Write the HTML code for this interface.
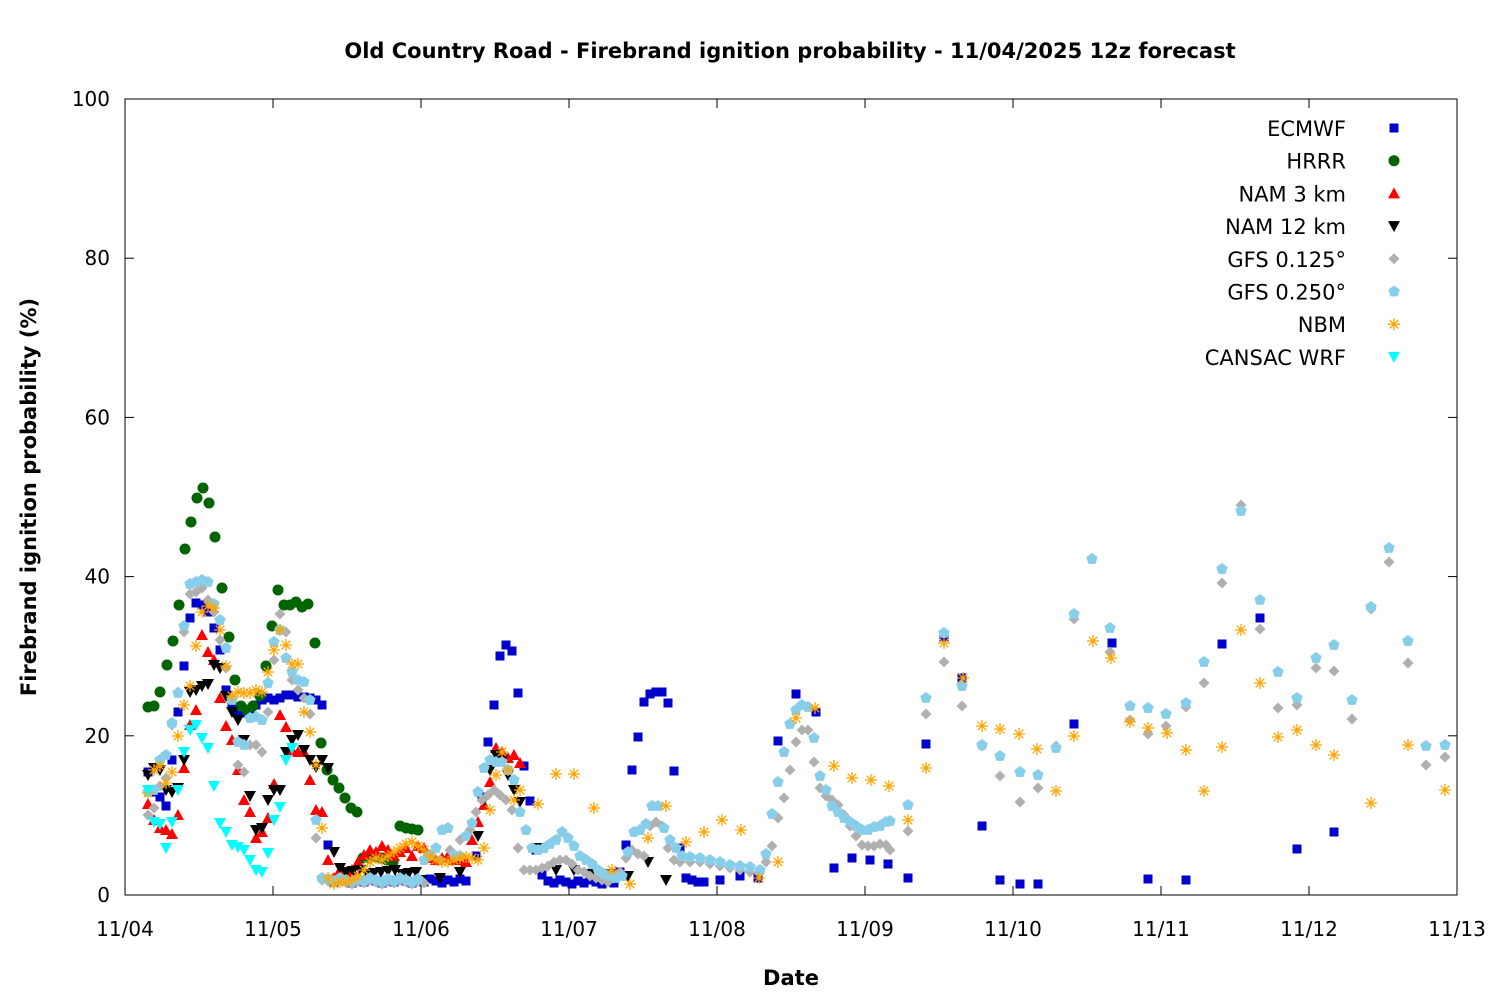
<!DOCTYPE html>
<html><head><meta charset="utf-8"><style>
html,body{margin:0;padding:0;background:#fff}
svg{display:block;font-family:"DejaVu Sans","Liberation Sans",sans-serif}
</style></head><body>
<svg id="s" width="1500" height="1000" viewBox="0 0 1500 1000" xmlns="http://www.w3.org/2000/svg">
<rect width="1500" height="1000" fill="#fff"/>
<text x="790" y="58" text-anchor="middle" font-size="21" font-weight="bold">Old Country Road - Firebrand ignition probability - 11/04/2025 12z forecast</text>
<g id="axes" stroke="#000" stroke-width="1" fill="none"><rect x="125" y="99" width="1332" height="796"/></g>
<g id="lab" font-size="20" fill="#000"></g>
<text x="791" y="985" text-anchor="middle" font-size="21" font-weight="bold">Date</text>
<text transform="translate(36,497) rotate(-90)" text-anchor="middle" font-size="21" font-weight="bold">Firebrand ignition probability (%)</text>
<g id="pts"></g>
<g id="leg" font-size="21" text-anchor="end"></g>
</svg>
<script>
var NS="http://www.w3.org/2000/svg",s=document.getElementById('s');
function el(t,a,p){var e=document.createElementNS(NS,t);for(var k in a)e.setAttribute(k,a[k]);(p||s).appendChild(e);return e;}
var ax=document.getElementById('axes'),lab=document.getElementById('lab');
for(var i=0;i<=5;i++){var y=895-i*159.2;el('line',{x1:125,y1:y,x2:134,y2:y},ax);el('line',{x1:1457,y1:y,x2:1448,y2:y},ax);
var t=el('text',{x:110,y:y+7,'text-anchor':'end'},lab);t.textContent=i*20;}
var days=['11/04','11/05','11/06','11/07','11/08','11/09','11/10','11/11','11/12','11/13'];
for(var i=0;i<10;i++){var x=125+i*148;el('line',{x1:x,y1:895,x2:x,y2:886},ax);el('line',{x1:x,y1:99,x2:x,y2:108},ax);
var t=el('text',{x:x,y:936,'text-anchor':'middle'},lab);t.textContent=days[i];}
var G=document.getElementById('pts');
function mk(type,c,x,y,p){p=p||G;
 if(type=='sq')el('rect',{x:x-4.5,y:y-4.5,width:9,height:9,fill:c},p);
 else if(type=='ci')el('circle',{cx:x,cy:y,r:5.5,fill:c},p);
 else if(type=='tu')el('polygon',{points:(x-6)+','+(y+5)+' '+(x+6)+','+(y+5)+' '+x+','+(y-6),fill:c},p);
 else if(type=='td')el('polygon',{points:(x-6)+','+(y-5)+' '+(x+6)+','+(y-5)+' '+x+','+(y+6),fill:c},p);
 else if(type=='di')el('polygon',{points:x+','+(y-5.5)+' '+(x+5.5)+','+y+' '+x+','+(y+5.5)+' '+(x-5.5)+','+y,fill:c},p);
 else if(type=='pe'){var q=[];for(var k=0;k<5;k++){var a=-Math.PI/2+k*2*Math.PI/5;q.push((x+6*Math.cos(a)).toFixed(1)+','+(y+6*Math.sin(a)).toFixed(1));}el('polygon',{points:q.join(' '),fill:c},p);}
 else if(type=='as'){var d='M'+(x-6)+' '+y+'h12M'+x+' '+(y-6)+'v12M'+(x-4.3)+' '+(y-4.3)+'l8.6 8.6M'+(x-4.3)+' '+(y+4.3)+'l8.6 -8.6';el('path',{d:d,stroke:c,'stroke-width':1.3,fill:'none'},p);}
}
function flat(a,b,y,st){var r=[];for(var x=a;x<=b;x+=st)r.push(x,y+((x*7)%5)-2);return r;}
var S=[
['sq','#0000cc',[148,772,154,792,160,797,166,806,172,760,178,712,184,666,190,618,196,603,202,605,208,612,214,628,220,650,226,690,232,705,238,713,244,713,250,710,256,705,262,700,268,698,274,700,280,698,286,695,292,695,298,697,304,697,310,698,316,700,322,705,328,845].concat(flat(334,470,881,6)).concat([476,856,482,797,488,742,494,705,500,656,506,645,512,651,518,693,524,766,530,801,536,850,542,875]).concat(flat(548,614,882,6)).concat([620,872,626,845,632,770,638,737,644,702,650,694,656,692,662,692,668,703,674,771,680,848,686,878,692,880,698,882,704,882,720,880,740,876,758,878,778,741,796,694,816,712,834,868,852,858,870,860,888,864,908,878,926,744,944,637,962,678,982,826,1000,880,1020,884,1038,884,1074,724,1112,643,1148,879,1186,880,1222,644,1260,618,1297,849,1334,832])],
['ci','#006400',[148,707,154,706,160,692,167,665,173,641,179,605,185,549,191,522,197,498,203,488,209,503,215,537,222,588,229,637,235,680,241,706,247,710,253,706,260,696,266,666,272,626,278,590,284,605,290,605,296,602,302,607,308,604,315,643,321,743,327,770,333,780,339,788,345,798,351,808,357,812,363,858,369,858,375,857,381,858,387,860,393,862,400,826,406,828,412,829,418,830]],
['tu','#ff0000',[148,804,154,820,160,828,166,830,172,834,178,815,184,768,190,725,196,710,202,635,208,652,214,660,220,698,226,726,232,740,238,770,244,800,250,812,256,838,262,832,268,818,274,784,280,715,286,727,292,750,298,752,304,752,310,780,316,810,322,812,328,860,334,878,340,870,346,872,352,870,358,862,364,855,370,850,376,852,382,846,388,850,394,856,400,852,406,848,412,856,418,846,424,848,430,858,436,860,442,858,448,856,454,860,460,860,466,862,472,840,478,822,484,805,490,782,496,748,502,752,508,758,514,755,520,763]],
['td','#000000',[148,775,154,768,160,770,166,790,172,792,178,788,184,760,190,692,196,690,202,686,208,684,214,665,220,668,226,696,232,712,238,720,244,740,250,796,256,830,262,828,268,800,274,790,280,790,286,752,292,740,298,735,304,750,310,760,316,767,322,760,328,768,334,852,340,868].concat(flat(346,416,872,7)).concat([421,880,440,878,460,872,478,836,484,800,490,770,496,755,502,760,508,775,514,790,520,802,538,848,556,870,574,870,592,874,610,874,628,876,648,862,666,880])],
['di','#b0b0b0',[148,815,154,808,160,786,166,778,172,725,178,692,184,632,190,594,196,592,202,588,208,600,214,612,220,640,226,668,232,698,238,765,244,772,250,745,256,745,262,752,268,712,274,660,280,614,286,632,292,680,298,690,304,698,310,714,316,838,322,880].concat(flat(328,424,882,6)).concat([440,860,450,850,460,840,470,830,476,812,482,800,488,795,494,790,500,795,506,800,512,810,518,848,524,870,530,870,536,870,542,868,548,866,554,862,560,860,566,860,572,864,578,870,584,872,590,876,596,878,602,880,608,882,614,878,620,872,626,858,632,850,638,854,644,856,650,826,656,822,662,826,668,848,674,860,680,862,690,862,700,862,710,864,720,866,730,868,740,870,750,872,760,872,766,862,772,846,778,818,784,798,790,770,796,742,802,730,808,730,814,762,820,788,826,796,832,800,838,805,844,815,850,826,856,836,862,845,868,846,874,846,880,844,886,845,890,850,908,831,926,714,944,662,962,706,982,746,1000,776,1020,802,1038,788,1056,746,1074,619,1092,558,1110,652,1130,720,1148,734,1166,726,1186,707,1204,683,1222,583,1241,505,1260,629,1278,708,1297,705,1316,668,1334,671,1352,719,1371,609,1389,562,1408,663,1426,765,1445,757])],
['pe','#87ceeb',[148,792,154,790,160,760,166,755,172,723,178,693,184,626,190,584,196,582,202,580,208,582,214,604,220,620,226,648,232,700,238,742,244,745,250,718,256,717,262,720,268,683,274,642,280,630,286,658,292,672,298,680,304,682,310,700,316,820,322,878].concat(flat(328,418,880,6)).concat([424,860,430,855,436,848,442,830,448,828,454,855,460,856,466,836,472,823,478,792,484,768,490,760,496,762,502,762,508,770,514,780,520,812,526,830,532,848,538,850,544,848,550,844,556,840,562,832,568,838,574,846,580,856,586,860,592,864,598,870,604,874,610,876,616,878,622,876,628,852,634,832,640,830,646,824,652,806,658,806,664,828,670,840,676,848,682,856,690,857,700,858,710,860,720,862,730,865,740,866,750,867,760,870,766,854,772,814,778,782,784,752,790,724,796,710,802,705,808,707,814,738,820,776,826,790,832,806,838,812,844,818,850,822,856,826,862,830,868,830,874,827,880,826,886,822,890,821,908,805,926,698,944,633,962,686,982,745,1000,756,1020,772,1038,775,1056,748,1074,614,1092,559,1110,628,1130,706,1148,708,1166,714,1186,703,1204,662,1222,569,1241,511,1260,600,1278,672,1297,698,1316,658,1334,645,1352,700,1371,607,1389,548,1408,641,1426,746,1445,745])],
['as','#ffa500',[148,793,154,770,160,766,166,783,172,772,178,736,184,705,190,686,196,646,202,612,208,606,214,608,220,630,226,666,232,696,238,692,244,693,250,693,256,690,262,692,268,672,274,650,280,630,286,645,292,664,298,664,304,712,310,732,316,765,322,828,328,878,334,884,340,882,346,882,352,880,358,876,364,870,370,862,376,858,382,860,388,856,394,852,400,848,406,844,412,842,418,846,424,850,430,856,436,860,442,862,448,862,454,860,460,858,466,857,472,858,478,860,484,848,490,810,496,775,502,752,508,770,514,800,520,790,538,804,556,774,574,774,594,808,612,870,630,884,648,838,666,806,686,842,704,832,722,820,741,830,759,878,778,862,796,718,815,708,834,766,852,778,871,780,889,786,908,820,926,768,944,643,963,678,982,726,1000,729,1019,734,1037,749,1056,791,1074,736,1093,641,1111,658,1130,722,1148,728,1167,733,1186,750,1204,791,1222,747,1241,630,1260,683,1278,737,1297,730,1316,745,1334,755,1371,803,1408,745,1445,790]],
['td','#00ffff',[148,790,154,822,160,824,166,848,172,822,178,790,184,752,190,730,196,725,202,738,208,748,214,786,220,823,226,832,232,845,238,847,244,850,250,860,256,870,262,872,268,853,274,820,280,807,286,760,292,748]]
];
S.forEach(function(sr){var a=sr[2];for(var i=0;i<a.length;i+=2)mk(sr[0],sr[1],a[i],a[i+1]);});
var names=['ECMWF','HRRR','NAM 3 km','NAM 12 km','GFS 0.125°','GFS 0.250°','NBM','CANSAC WRF'];
var L=document.getElementById('leg');
for(var i=0;i<8;i++){var y=128+i*32.7;var t=el('text',{x:1346,y:y+8},L);t.textContent=names[i];mk(S[i][0],S[i][1],1394,y,L);}
</script>
</body></html>
